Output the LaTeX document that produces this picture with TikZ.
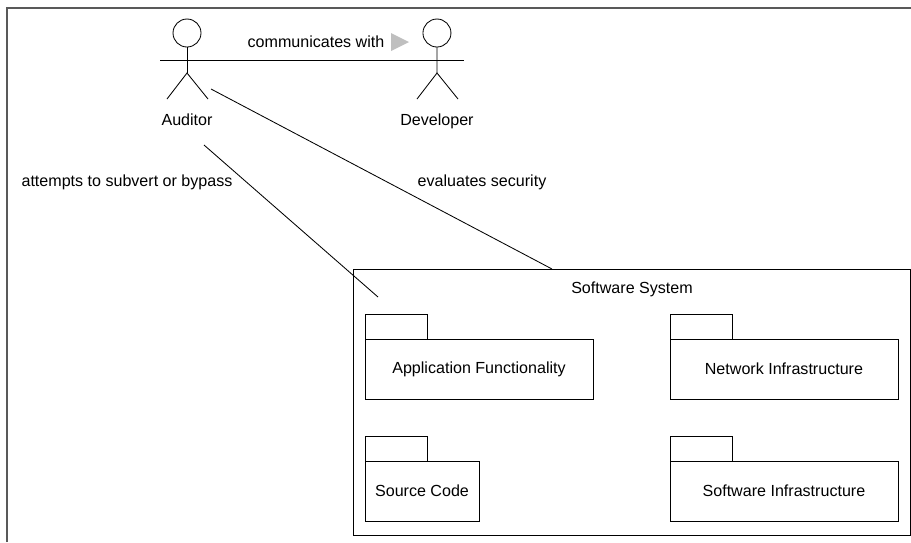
\documentclass[tikz,border=0pt]{standalone}
\usepackage{fontspec}
\setmainfont{Liberation Sans}
\usepackage{tikz}
\usetikzlibrary{positioning, arrows.meta, shapes}

\begin{document}
\begin{tikzpicture}[x=0.02cm, y=-0.02cm, line width=0.48pt, every node/.style={font=\fontsize{9.15}{11}\selectfont, inner sep=0pt, outer sep=0pt},
		head/.style={draw,circle,minimum size=0.56cm},
		pkgbody/.style={draw,minimum width=4.56cm,minimum height=1.2cm},
		pkgsmall/.style={draw,minimum width=2.28cm,minimum height=1.2cm},
		pkgtab/.style={draw,minimum width=1.24cm,minimum height=0.5cm},
		outerframe/.style={draw=black!65,line width=0.9pt}]
			\useasboundingbox (0,0) rectangle (911,542);
			\draw[outerframe] (7,542) -- (7,8) -- (911,8);
			% actors
			\node[head] (audhead) at (187,33) {};
			\node[head,right=4.44cm of audhead] (devhead) {};
			\node[below=1.34cm of audhead] (audlabel) {Auditor};
			\node[below=1.34cm of devhead] (devlabel) {Developer};
			\coordinate (audhip) at (187,73);
			\coordinate (devhip) at (437,73);
			\coordinate (audarml) at (160,60);
			\coordinate (audarmr) at (214,60);
			\coordinate (devarml) at (411,60);
			\coordinate (devarmr) at (464,60);
			\coordinate (audfootl) at (167,99);
			\coordinate (audfootr) at (208,99);
			\coordinate (devfootl) at (417,99);
			\coordinate (devfootr) at (458,99);
			\draw (audhead) -- (audhip);
			\draw (devhead) -- (devhip);
			\draw (audarml) -- (audarmr);
			\draw (devarml) -- (devarmr);
			\draw (audfootl) -- (audhip) -- (audfootr);
			\draw (devfootl) -- (devhip) -- (devfootr);
			\draw (audarmr) -- (devarml);
			\node (commlabel) at (316,42) {communicates with};
			\fill[black!25] (391,33) -- (409,42) -- (391,51) -- cycle;
			% system and its packages
			\node[draw,minimum width=11.14cm,minimum height=5.32cm] (system) at (631.5,402) {};
			\node (systitle) at (632,289) {Software System};
			\node[pkgbody] (app) at (479,369) {Application Functionality};
			\node[pkgbody,right=1.54cm of app] (network) {Network Infrastructure};
			\node[pkgsmall,below=1.24cm of app.south west,anchor=north west] (source) {Source Code};
			\node[pkgbody,below=1.24cm of network] (infra) {Software Infrastructure};
			\node[pkgtab,above=0pt of app.north west,anchor=south west] (apptab) {};
			\node[pkgtab,above=0pt of network.north west,anchor=south west] (nettab) {};
			\node[pkgtab,above=0pt of source.north west,anchor=south west] (srctab) {};
			\node[pkgtab,above=0pt of infra.north west,anchor=south west] (inftab) {};
			% associations
			\coordinate (evalfrom) at (211,89);
			\coordinate (evalto) at (552,269);
			\coordinate (subfrom) at (204,145);
			\coordinate (subto) at (378,297);
			\draw (evalfrom) -- (evalto);
			\draw (subfrom) -- (subto);
			\node (sublabel) at (127,182) {attempts to subvert or bypass};
			\node (evallabel) at (482,182) {evaluates security};
		\end{tikzpicture}
\end{document}
